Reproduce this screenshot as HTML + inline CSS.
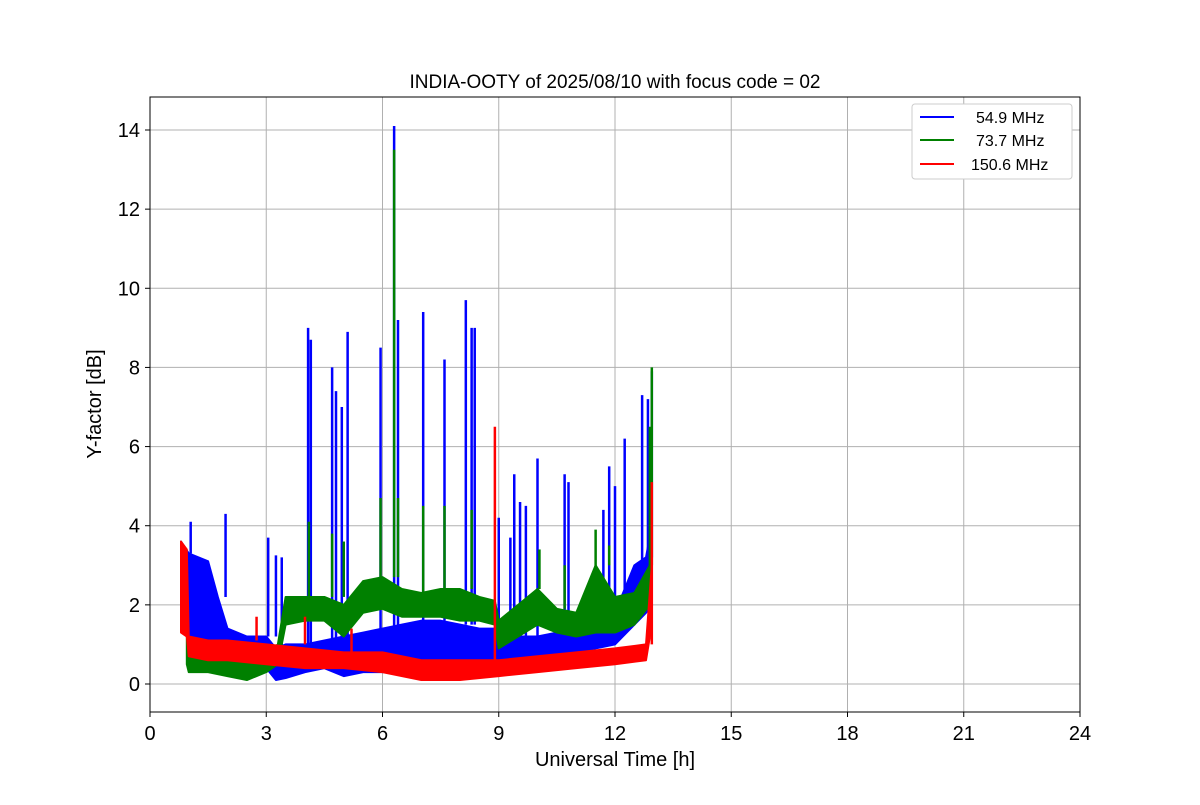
<!DOCTYPE html>
<html><head><meta charset="utf-8"><style>
body{margin:0;background:#fff;font-family:"Liberation Sans","DejaVu Sans",sans-serif}
</style></head><body>
<svg id="chart" width="1200" height="800" xmlns="http://www.w3.org/2000/svg">
<rect width="1200" height="800" fill="#fff"/>
<g id="grid"></g>
<g id="series"></g>
<rect x="150" y="97" width="930" height="615" fill="none" stroke="#000" stroke-width="1"/>
<g id="axes"></g>
<text x="615" y="88" text-anchor="middle" font-size="19">INDIA-OOTY of 2025/08/10 with focus code = 02</text>
<text x="615" y="766" text-anchor="middle" font-size="20">Universal Time [h]</text>
<text transform="translate(101,404) rotate(-90)" text-anchor="middle" font-size="20">Y-factor [dB]</text>
<g>
<rect x="912" y="104" width="160" height="75" rx="3" fill="#fff" stroke="#ccc"/>
<g><line x1="920" y1="117" x2="954" y2="117" stroke="blue" stroke-width="2"/><text x="976" y="123" font-size="16">54.9 MHz</text></g>
<g><line x1="920" y1="140" x2="954" y2="140" stroke="green" stroke-width="2"/><text x="976" y="146" font-size="16">73.7 MHz</text></g>
<g><line x1="920" y1="164" x2="954" y2="164" stroke="red" stroke-width="2"/><text x="971" y="170" font-size="16">150.6 MHz</text></g>
</g>
</svg>
<script>
const xTicks=[0,3,6,9,12,15,18,21,24];
const yTicks=[0,2,4,6,8,10,12,14];
const blueT=[0.8,1.0,1.5,1.75,2.0,2.5,3.0,3.25,3.5,4.0,4.5,5.0,5.5,6.0,6.5,7.0,7.5,8.0,8.5,9.0,9.5,10.0,10.5,11.0,11.5,12.0,12.5,12.8,12.95];
const blueLo=[1.5,1.2,1.0,0.7,0.5,0.5,0.4,0.1,0.15,0.3,0.4,0.2,0.3,0.3,0.3,0.4,0.5,0.5,0.4,0.3,0.6,0.6,0.7,0.8,0.9,1.0,1.5,1.8,2.0];
const blueHi=[3.6,3.3,3.1,2.2,1.4,1.2,1.2,0.9,1.0,1.0,1.1,1.2,1.3,1.4,1.5,1.6,1.6,1.5,1.4,1.4,1.2,1.2,1.3,1.4,1.5,1.8,3.0,3.2,4.0];
const greenT=[0.95,1.0,1.5,2.0,2.5,3.0,3.3,3.5,4.0,4.5,5.0,5.5,6.0,6.5,7.0,7.5,8.0,8.5,8.9,9.0,9.5,10.0,10.5,11.0,11.5,12.0,12.5,12.9];
const greenLo=[0.5,0.3,0.3,0.2,0.1,0.3,0.5,1.5,1.6,1.6,1.2,1.8,1.9,1.7,1.7,1.7,1.6,1.6,1.5,0.9,1.2,1.5,1.3,1.2,1.3,1.3,1.5,2.0];
const greenHi=[1.2,0.9,0.8,0.7,0.6,0.8,1.0,2.2,2.2,2.2,2.0,2.6,2.7,2.4,2.3,2.4,2.4,2.2,2.1,1.6,2.0,2.4,1.9,1.8,3.0,2.2,2.3,3.0];
const redT=[0.8,0.95,1.0,1.5,2.0,3.0,4.0,5.0,6.0,7.0,8.0,9.0,10.0,11.0,12.0,12.8,12.95];
const redLo=[1.3,1.2,0.7,0.6,0.6,0.5,0.4,0.4,0.3,0.1,0.1,0.2,0.3,0.4,0.5,0.6,1.5];
const redHi=[3.6,3.4,1.2,1.1,1.1,1.0,0.9,0.8,0.8,0.6,0.6,0.6,0.7,0.8,0.9,1.0,3.0];
const blueSpikeT=[1.05,1.95,3.05,3.25,3.4,4.08,4.15,4.7,4.8,4.95,5.1,5.95,6.3,6.4,7.05,7.6,8.15,8.3,8.38,9.0,9.3,9.4,9.55,9.7,10.0,10.7,10.8,11.7,11.85,12.0,12.25,12.7,12.85,12.95];
const blueSpikeV=[4.1,4.3,3.7,3.25,3.2,9.0,8.7,8.0,7.4,7.0,8.9,8.5,14.1,9.2,9.4,8.2,9.7,9.0,9.0,4.2,3.7,5.3,4.6,4.5,5.7,5.3,5.1,4.4,5.5,5.0,6.2,7.3,7.2,7.9];
const greenSpikeT=[4.1,4.7,5.0,5.95,6.3,6.4,7.05,7.6,8.3,10.05,10.7,11.5,11.85,12.9,12.95];
const greenSpikeV=[4.1,3.8,3.6,4.7,13.5,4.7,4.5,4.5,4.4,3.4,3.0,3.9,3.5,6.5,8.0];
const redSpikeT=[2.75,4.0,5.2,8.9,12.95];
const redSpikeV=[1.7,1.7,1.4,6.5,5.1];

const NS="http://www.w3.org/2000/svg";
const X=t=>150+t*(930/24);
const Y=v=>684-v*((684-130)/14);
function mk(tag,attrs,parent){const e=document.createElementNS(NS,tag);for(const k in attrs)e.setAttribute(k,attrs[k]);parent.appendChild(e);return e;}
const grid=document.getElementById('grid'),axes=document.getElementById('axes'),ser=document.getElementById('series');
xTicks.forEach(t=>{
  const g=mk('line',{x1:X(t),x2:X(t),y1:97,y2:712,stroke:'#b0b0b0','stroke-width':1},grid);
  
  
  mk('line',{x1:X(t),x2:X(t),y1:712,y2:717,stroke:'#000'},axes);
  const l=mk('text',{x:X(t),y:740,'text-anchor':'middle','font-size':20},axes);
  l.textContent=t;
  
  
});
yTicks.forEach(v=>{
  const g=mk('line',{x1:150,x2:1080,y1:Y(v),y2:Y(v),stroke:'#b0b0b0','stroke-width':1},grid);
  
  
  mk('line',{x1:145,x2:150,y1:Y(v),y2:Y(v),stroke:'#000'},axes);
  const l=mk('text',{x:140,y:Y(v)+7,'text-anchor':'end','font-size':20},axes);
  l.textContent=v;
  
  
});
function band(T,lo,hi,color,name){
  let pts=T.map((t,i)=>X(t)+','+Y(hi[i]));
  for(let i=T.length-1;i>=0;i--)pts.push(X(T[i])+','+Y(lo[i]));
  const p=mk('polygon',{points:pts.join(' '),fill:color,stroke:color,'stroke-width':2,'stroke-linejoin':'round'},ser);
  
  
}
function spikes(T,V,lo,loT,color,name){
  T.forEach((t,i)=>{
    let j=0;while(j<loT.length-1&&loT[j+1]<t)j++;
    const base=lo[j];
    const s=mk('line',{x1:X(t),x2:X(t),y1:Y(base),y2:Y(V[i]),stroke:color,'stroke-width':2.5},ser);
    
    
  });
}
band(blueT,blueLo,blueHi,'blue','series-54-9-mhz');
spikes(blueSpikeT,blueSpikeV,blueHi,blueT,'blue','spike-54-9-mhz');
band(greenT,greenLo,greenHi,'green','series-73-7-mhz');
spikes(greenSpikeT,greenSpikeV,greenHi,greenT,'green','spike-73-7-mhz');
band(redT,redLo,redHi,'red','series-150-6-mhz');
spikes(redSpikeT,redSpikeV,redHi,redT,'red','spike-150-6-mhz');
</script>
</body></html>
